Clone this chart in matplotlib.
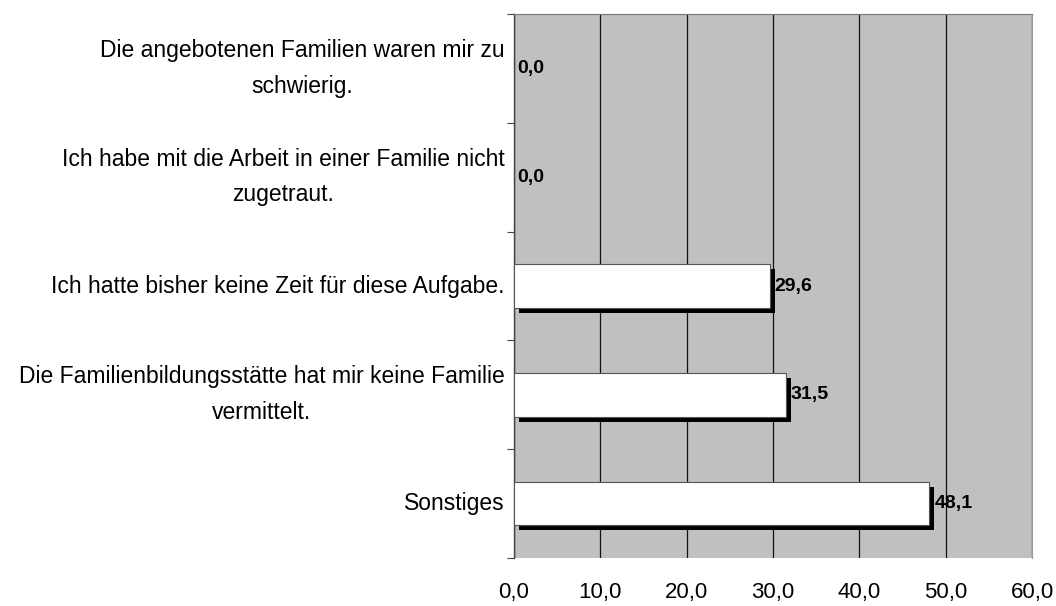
import matplotlib
matplotlib.use("Agg")
import matplotlib.pyplot as plt
import matplotlib.transforms as mtransforms
import numpy as np

categories = [
    "Die angebotenen Familien waren mir zu\nschwierig.",
    "Ich habe mit die Arbeit in einer Familie nicht\nzugetraut.",
    "Ich hatte bisher keine Zeit für diese Aufgabe.",
    "Die Familienbildungsstätte hat mir keine Familie\nvermittelt.",
    "Sonstiges",
]
values = [0.0, 0.0, 29.6, 31.5, 48.1]
xticks = [0, 10, 20, 30, 40, 50, 60]

plt.rcParams['font.family'] = ['Liberation Sans', 'DejaVu Sans']

fig = plt.figure(figsize=(10.56, 6.06), dpi=100)
ax = fig.add_axes([514/1056, 1 - 558/606, (1032 - 514)/1056, (558 - 14)/606])
ax.set_facecolor('#c0c0c0')

n = len(categories)
y = np.arange(n)
h = 0.40

shadow = ax.transData + mtransforms.ScaledTranslation(5/100, -5/100, fig.dpi_scale_trans)
for yi, v in zip(y, values):
    if v > 0:
        ax.barh(yi, v, height=h, color='black', transform=shadow, zorder=3)
        ax.barh(yi, v, height=h, color='white', edgecolor='#555555', linewidth=0.8, zorder=4)
    lab_off = mtransforms.ScaledTranslation((5 if v > 0 else 3)/100, 0, fig.dpi_scale_trans)
    ax.text(v, yi, f"{v:.1f}".replace('.', ','), transform=ax.transData + lab_off,
            ha='left', va='center', fontsize=14, fontweight='bold', zorder=5)

ax.set_xlim(0, 60)
ax.set_ylim(n - 0.5, -0.5)
ax.set_xticks(xticks)
ax.set_xticklabels([f"{t:.1f}".replace('.', ',') for t in xticks], fontsize=16)
ax.tick_params(axis='x', length=0, pad=17)
ax.grid(axis='x', color='#111111', linewidth=0.9, zorder=1)
ax.set_axisbelow(True)

ax.set_yticks(y)
ax.set_yticklabels(categories, fontsize=16.5, ha='right', va='center',
                   multialignment='center', linespacing=1.7)
ax.tick_params(axis='y', which='major', length=0, pad=7)
ax.set_yticks(np.arange(n + 1) - 0.5, minor=True)
ax.tick_params(axis='y', which='minor', length=5, width=0.8, color='#444444', direction='out')

ax.spines['left'].set_color('#444444')
ax.spines['left'].set_linewidth(1)
ax.spines['top'].set_color('#777777')
ax.spines['right'].set_color('#999999')
ax.spines['bottom'].set_visible(False)

fig.savefig('out.png', dpi=100)
